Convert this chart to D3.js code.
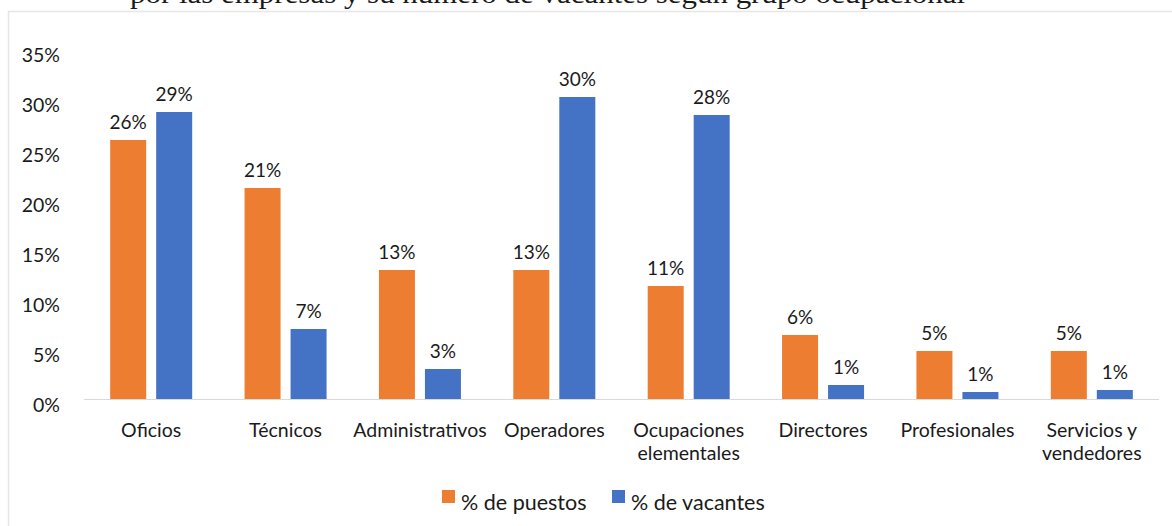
<!DOCTYPE html>
<meta charset="utf-8">
<style>
body { margin: 0; background: #fff; }
text { font-family: Lato, "Open Sans", sans-serif; fill: #1a1a1a; }
.title { font-family: "Liberation Serif", serif; font-size: 27px; }
</style>
<body>
<script src="https://cdn.jsdelivr.net/npm/d3@7"></script>
<script>

const categories = ["Oficios", "Técnicos", "Administrativos", "Operadores",
  "Ocupaciones elementales", "Directores", "Profesionales", "Servicios y vendedores"];
const labelLines = [["Oficios"], ["Técnicos"], ["Administrativos"], ["Operadores"],
  ["Ocupaciones", "elementales"], ["Directores"], ["Profesionales"], ["Servicios y", "vendedores"]];
const puestos = [25.9, 21.1, 12.9, 12.9, 11.3, 6.4, 4.8, 4.8];
const vacantes = [28.7, 7.0, 3.0, 30.2, 28.4, 1.4, 0.7, 0.9];
const seriesNames = ["% de puestos", "% de vacantes"];
const colors = ["#ED7D31", "#4472C4"];
const yTicks = [0, 5, 10, 15, 20, 25, 30, 35];

const width = 1172, height = 526;

let svg = d3.select("body").append("svg")
    .attr("width", width)
    .attr("height", height);

// cut-off title from the page above
svg.append("text")
    .attr("class", "title")
    .attr("x", 130)
    .attr("y", 3)
    .attr("textLength", 835)
    .attr("lengthAdjust", "spacingAndGlyphs")
    .text("por las empresas y su número de vacantes según grupo ocupacional");

// chart frame
svg.append("rect")
    .attr("x", 8.5).attr("y", 11.5)
    .attr("width", 1180).attr("height", 530)
    .attr("fill", "none")
    .attr("stroke", "#e6e6e6")
    .attr("stroke-width", 1.5);

let x = d3.scaleBand()
    .domain(categories)
    .range([84, 1159]);

let y = d3.scaleLinear()
    .domain([0, 35])
    .range([399, 49]);

let barW = 36, gap = 10;

// y labels (Excel draws them a bit below the tick)
svg.append("g").selectAll("text")
    .data(yTicks)
    .enter().append("text")
    .attr("x", 60)
    .attr("y", d => y(d) + 6)
    .attr("dy", "0.35em")
    .attr("text-anchor", "end")
    .style("font-size", "19.5px")
    .text(d => d + "%");

// axis line
svg.append("line")
    .attr("x1", 84).attr("x2", 1159)
    .attr("y1", 399.5).attr("y2", 399.5)
    .attr("stroke", "#d9d9d9")
    .attr("stroke-width", 1);

[puestos, vacantes].forEach(function(vals, s) {
  let g = svg.append("g");
  let xpos = (d, i) => x(categories[i]) + x.bandwidth() / 2 + (s === 0 ? -gap / 2 - barW : gap / 2);

  g.selectAll("rect")
      .data(vals)
      .enter().append("rect")
      .attr("x", xpos)
      .attr("y", d => y(d))
      .attr("width", barW)
      .attr("height", d => y(0) - y(d))
      .attr("fill", colors[s]);

  g.selectAll("text")
      .data(vals)
      .enter().append("text")
      .attr("x", (d, i) => xpos(d, i) + barW / 2)
      .attr("y", d => y(d) - 11)
      .attr("text-anchor", "middle")
      .style("font-size", "19px")
      .text(d => Math.round(d) + "%");
});

// category labels
let xl = svg.append("g").selectAll("text")
    .data(labelLines)
    .enter().append("text")
    .attr("x", (d, i) => x(categories[i]) + x.bandwidth() / 2)
    .attr("y", 437)
    .attr("dy", "0.35em")
    .attr("text-anchor", "middle")
    .style("font-size", "19.5px");

xl.selectAll("tspan")
    .data(d => d)
    .enter().append("tspan")
    .attr("x", function() { return this.parentNode.getAttribute("x"); })
    .attr("dy", (d, i) => i === 0 ? 0 : 23)
    .text(d => d);

// legend
let legX = [442, 612];
seriesNames.forEach(function(name, i) {
  svg.append("rect")
      .attr("x", legX[i]).attr("y", 490)
      .attr("width", 13).attr("height", 13)
      .attr("fill", colors[i]);
  svg.append("text")
      .attr("x", legX[i] + 19)
      .attr("y", 502)
      .attr("dy", "0.35em")
      .style("font-size", "21.5px")
      .text(name);
});

</script>
